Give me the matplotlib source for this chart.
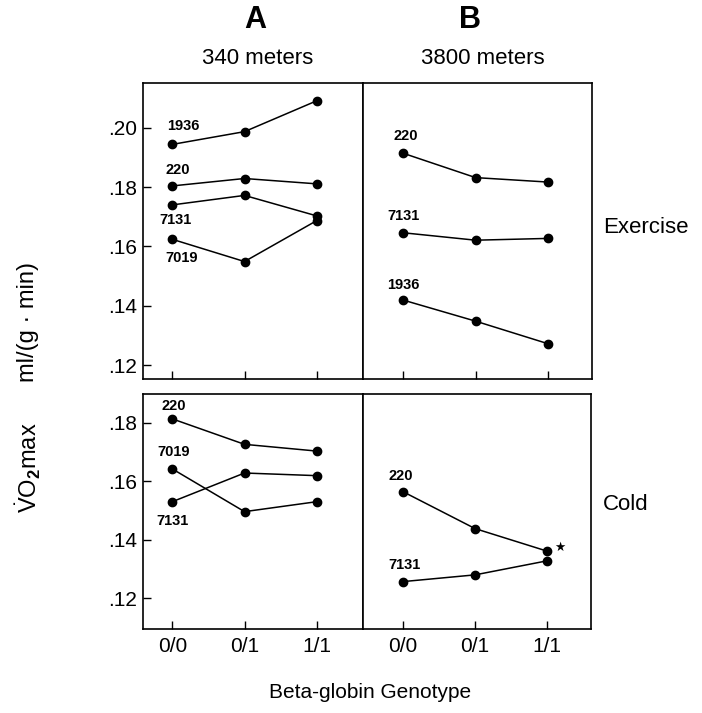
import matplotlib.pyplot as plt

plt.rcParams['font.family'] = ['Liberation Sans', 'DejaVu Sans']
plt.rcParams['mathtext.fontset'] = 'custom'
plt.rcParams['mathtext.rm'] = 'Liberation Sans'
plt.rcParams['mathtext.bf'] = 'Liberation Sans:bold'

genotypes = ['0/0', '0/1', '1/1']

# Exercise, 340 m (panel A top)
ex340_labels = ['1936', '220', '7131', '7019']
ex340_1936 = [0.1944, 0.1987, 0.2091]
ex340_220 = [0.1804, 0.1829, 0.1811]
ex340_7131 = [0.1740, 0.1772, 0.1703]
ex340_7019 = [0.1624, 0.1549, 0.1687]

# Exercise, 3800 m (panel B top)
ex3800_labels = ['220', '7131', '1936']
ex3800_220 = [0.1914, 0.1832, 0.1817]
ex3800_7131 = [0.1646, 0.1621, 0.1627]
ex3800_1936 = [0.1419, 0.1348, 0.1272]

# Cold, 340 m (panel A bottom)
cold340_labels = ['220', '7019', '7131']
cold340_220 = [0.1813, 0.1726, 0.1703]
cold340_7019 = [0.1642, 0.1496, 0.1530]
cold340_7131 = [0.1530, 0.1628, 0.1619]

# Cold, 3800 m (panel B bottom)
cold3800_labels = ['220', '7131']
cold3800_220 = [0.1564, 0.1438, 0.1361]
cold3800_7131 = [0.1257, 0.1280, 0.1328]

W, H = 702, 713
fig = plt.figure(figsize=(W / 100, H / 100), dpi=100)


def box(l, t, r, b):
    return [l / W, 1 - b / H, (r - l) / W, (b - t) / H]


axA1 = fig.add_axes(box(143, 83, 363, 379))
axB1 = fig.add_axes(box(363, 83, 592, 379))
axA2 = fig.add_axes(box(143, 394, 363, 629))
axB2 = fig.add_axes(box(363, 394, 591, 629))

x = range(len(genotypes))


def series(ax, vals, label, off):
    ax.plot(x, vals, '-o', color='black', lw=1.1, ms=6)
    ax.annotate(label, (0, vals[0]), xytext=off, textcoords='offset pixels',
                ha='center', va='center', fontsize=10.5, fontweight='bold')


series(axA1, ex340_1936, ex340_labels[0], (11, 18))
series(axA1, ex340_220, ex340_labels[1], (5, 16))
series(axA1, ex340_7131, ex340_labels[2], (3, -15))
series(axA1, ex340_7019, ex340_labels[3], (9, -19))

series(axB1, ex3800_220, ex3800_labels[0], (2, 17))
series(axB1, ex3800_7131, ex3800_labels[1], (0, 17))
series(axB1, ex3800_1936, ex3800_labels[2], (0, 15))

series(axA2, cold340_220, cold340_labels[0], (1, 13))
series(axA2, cold340_7019, cold340_labels[1], (1, 17))
series(axA2, cold340_7131, cold340_labels[2], (0, -19))

series(axB2, cold3800_220, cold3800_labels[0], (-2, 16))
series(axB2, cold3800_7131, cold3800_labels[1], (1, 17))
# significance star next to the 1/1 point
axB2.annotate('★', (2, cold3800_220[2]), xytext=(13, 4), textcoords='offset pixels',
              ha='center', va='center', fontsize=9, family=['DejaVu Sans'])

yticks_top = [0.12, 0.14, 0.16, 0.18, 0.20]
yticks_bot = [0.12, 0.14, 0.16, 0.18]

for ax in (axA1, axA2, axB1, axB2):
    for s in ax.spines.values():
        s.set_linewidth(1.2)
    ax.set_xticks(list(x))
    ax.tick_params(direction='in', length=5.5, width=1, labelsize=15, pad=6)
    ax.tick_params(axis='y', pad=4)

axA1.set_xticklabels([])
axB1.set_xticklabels([])
axA2.set_xticklabels(genotypes)
axB2.set_xticklabels(genotypes)

axA1.set_yticks(yticks_top)
axA1.set_yticklabels(['.%02d' % round(v * 100) for v in yticks_top])
axA2.set_yticks(yticks_bot)
axA2.set_yticklabels(['.%02d' % round(v * 100) for v in yticks_bot])
axB1.set_yticks([])
axB2.set_yticks([])

for ax in (axA1, axB1):
    ax.set_ylim(0.1153, 0.2151)
for ax in (axA2, axB2):
    ax.set_ylim(0.1095, 0.1898)
for ax in (axA1, axA2):
    ax.set_xlim(-0.406, 2.641)
for ax in (axB1, axB2):
    ax.set_xlim(-0.557, 2.609)


def ftext(px, py, s, **kw):
    fig.text(px / W, 1 - py / H, s, ha='center', va='center', **kw)


ftext(255, 20, 'A', fontsize=22, fontweight='bold')
ftext(470, 20, 'B', fontsize=22, fontweight='bold')
ftext(258, 58, '340 meters', fontsize=16)
ftext(483, 58, '3800 meters', fontsize=16)

fig.text(603 / W, 1 - 227 / H, 'Exercise', ha='left', va='center', fontsize=16)
fig.text(603 / W, 1 - 505 / H, 'Cold', ha='left', va='center', fontsize=16)

ftext(28, 322, 'ml/(g · min)', fontsize=17, rotation=90)
ftext(28, 468, r'$\dot{\mathrm{V}}\mathrm{O}_{\mathbf{2}}$max', fontsize=17, rotation=90)

ftext(370, 693, 'Beta-globin Genotype', fontsize=15)

fig.savefig('out.png', dpi=100)
